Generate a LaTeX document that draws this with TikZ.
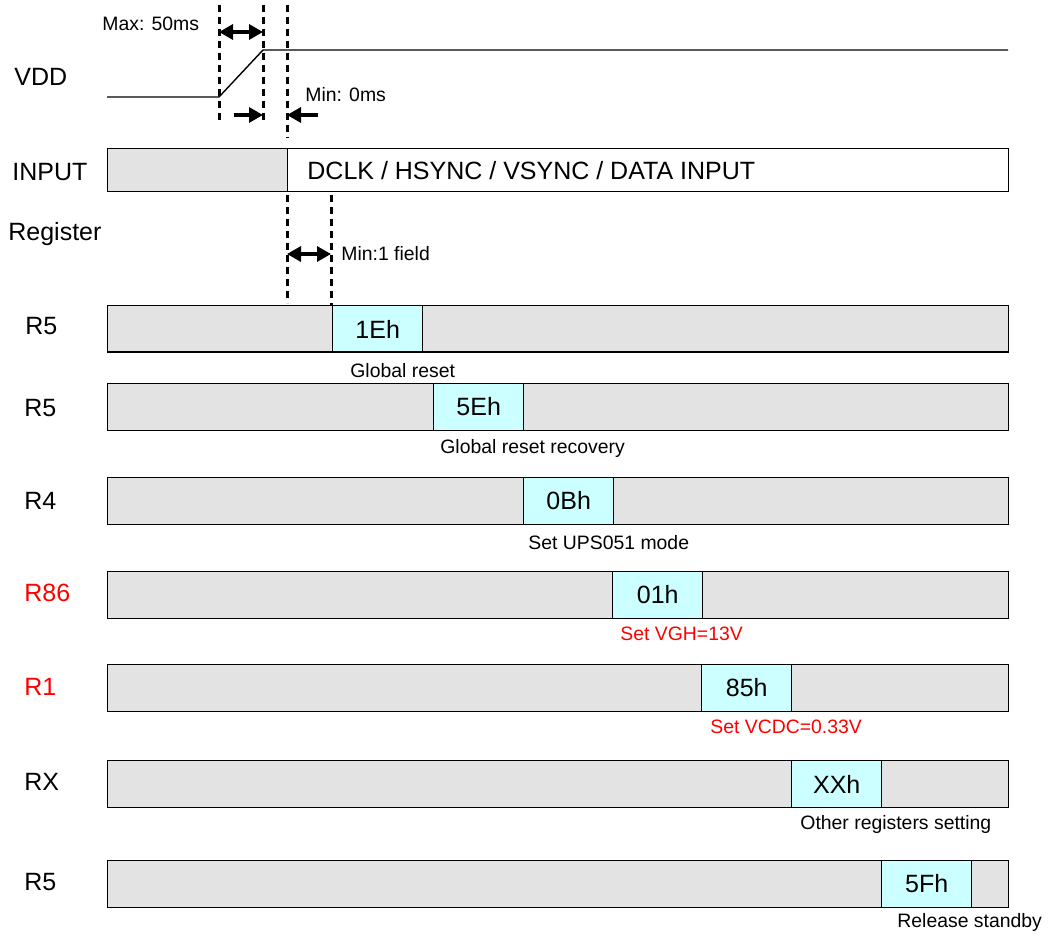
\documentclass[tikz,border=0pt]{standalone}
\usepackage{fontspec}
\setmainfont{Liberation Sans}
\usetikzlibrary{arrows.meta,positioning}

\definecolor{barGrey}{RGB}{227,227,227}
\definecolor{valCyan}{RGB}{204,255,255}

\begin{document}
\begin{tikzpicture}[
  x=0.5pt, y=-0.5pt,
  bar/.style={draw, fill=barGrey, anchor=north west, inner sep=0pt,
    minimum width=450.5pt, minimum height=23.25pt, line width=0.7pt},
  val/.style={draw, fill=valCyan, anchor=north west, inner sep=0pt,
    minimum width=45pt, minimum height=23.25pt, line width=0.7pt,
    font=\fontsize{12.5}{14}\selectfont},
  big/.style={anchor=west, inner sep=0pt, font=\fontsize{12.5}{14}\selectfont},
  note/.style={anchor=west, inner sep=0pt, font=\fontsize{9.7}{11}\selectfont},
  guide/.style={line width=1.5pt, dash pattern=on 3.5pt off 2.5pt},
  span/.style={{Triangle[length=7pt,width=7.5pt]}-{Triangle[length=7pt,width=7.5pt]}, line width=1.6pt},
  push/.style={-{Triangle[length=7pt,width=7.5pt]}, line width=1.6pt}
]
\useasboundingbox (0,0) rectangle (1050,936);

% supply ramp
\node[big] (vddlabel) at (14,77) {VDD};
\coordinate (vddlow) at (107,97);
\coordinate (rampstart) at (219,97);
\coordinate (rampend) at (263,50);
\coordinate (vddhigh) at (1008,50);
\draw[line width=0.7pt] (vddlow) -- (rampstart) -- (rampend) -- (vddhigh);

% timing guides
\coordinate (ga top) at (219,5);   \coordinate (ga bot) at (219,122);
\coordinate (gb top) at (263,5);   \coordinate (gb bot) at (263,122);
\coordinate (gc top) at (287,5);   \coordinate (gc bot) at (287,138);
\coordinate (gd top) at (287,195); \coordinate (gd bot) at (287,303);
\coordinate (ge top) at (331,195); \coordinate (ge bot) at (331,310);
\draw[guide] (ga top) -- (ga bot);
\draw[guide] (gb top) -- (gb bot);
\draw[guide] (gc top) -- (gc bot);
\draw[guide] (gd top) -- (gd bot);
\draw[guide] (ge top) -- (ge bot);

\node[note] (maxlabel) at (102,24) {Max: 50ms};
\coordinate (maxa) at (219,32);
\coordinate (maxb) at (263,32);
\draw[span] (maxa) -- (maxb);

\node[note] (minlabel) at (305,95) {Min: 0ms};
\coordinate (mina) at (234,115);
\coordinate (minb) at (263,115);
\coordinate (minc) at (318,115);
\coordinate (mind) at (287,115);
\draw[push] (mina) -- (minb);
\draw[push] (minc) -- (mind);

% input
\node[big] (inputlabel) at (12,172) {INPUT};
\node[draw, fill=barGrey, anchor=north west, inner sep=0pt, line width=0.7pt,
  minimum width=90pt, minimum height=21.5pt] (inoff) at (107,148) {};
\node[draw, fill=white, anchor=north west, inner sep=0pt, line width=0.7pt,
  minimum width=360.5pt, minimum height=21.5pt] (inon) at (287,148) {};
\node[big] (intext) at (307,171) {DCLK / HSYNC / VSYNC / DATA INPUT};

\node[big] (reglabel) at (8,234) {Register};
\node[note] (fieldlabel) at (341,254) {Min:1 field};
\coordinate (fielda) at (287,254);
\coordinate (fieldb) at (331,254);
\draw[span] (fielda) -- (fieldb);

% register writes
\node[big] (lblA) at (25,326) {R5};
\node[bar] (barA) at (107,305) {};
\node[val] (valA) at (332,305) {1Eh};
\node[note] (noteA) at (350,371) {Global reset};

\node[big] (lblB) at (24,408) {R5};
\node[bar] (barB) at (107,383) {};
\node[val] (valB) at (433,383) {5Eh};
\node[note] (noteB) at (440,448) {Global reset recovery};

\node[big] (lblC) at (24,501) {R4};
\node[bar] (barC) at (107,477) {};
\node[val] (valC) at (523,477) {0Bh};
\node[note] (noteC) at (528,543) {Set UPS051 mode};

\node[big, text=red] (lblD) at (24,593) {R86};
\node[bar] (barD) at (107,571) {};
\node[val] (valD) at (612,571) {01h};
\node[note, text=red] (noteD) at (620,634) {Set VGH=13V};

\node[big, text=red] (lblE) at (24,687) {R1};
\node[bar] (barE) at (107,664) {};
\node[val] (valE) at (701,664) {85h};
\node[note, text=red] (noteE) at (710,727) {Set VCDC=0.33V};

\node[big] (lblF) at (24,782) {RX};
\node[bar] (barF) at (107,760) {};
\node[val] (valF) at (791,760) {XXh};
\node[note] (noteF) at (800,824) {Other registers setting};

\node[big] (lblG) at (24,882) {R5};
\node[bar] (barG) at (107,860) {};
\node[val] (valG) at (881,860) {5Fh};
\node[note] (noteG) at (897,922) {Release standby};
\end{tikzpicture}
\end{document}
